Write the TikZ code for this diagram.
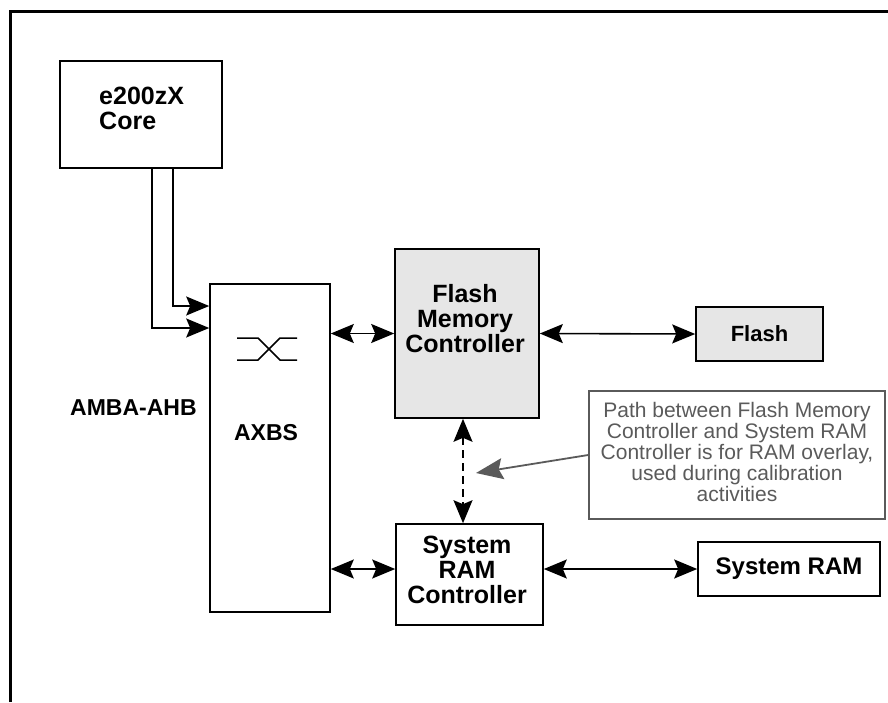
\documentclass[tikz,border=0pt]{standalone}
\usepackage{fontspec}
\setmainfont{Liberation Sans}
\usetikzlibrary{arrows.meta,calc}
\definecolor{boxgray}{HTML}{E6E6E6}
\definecolor{notegray}{HTML}{5A5A5A}
\begin{document}
\begin{tikzpicture}[x=1pt,y=-1pt,
  box/.style={draw, line width=1.6pt, inner sep=0pt},
  lbl/.style={font=\bfseries\fontsize{25}{25}\selectfont, align=center, inner sep=0pt},
  lblsm/.style={font=\bfseries\fontsize{23}{25}\selectfont, align=center, inner sep=0pt},
  notetxt/.style={font=\fontsize{21}{21}\selectfont, align=center, text=notegray, inner sep=0pt},
  tip/.style={-{Stealth[length=23pt,width=19pt,inset=4pt]}, line width=1.6pt},
  dbl/.style={{Stealth[length=23pt,width=19pt,inset=4pt]}-{Stealth[length=23pt,width=19pt,inset=4pt]}, line width=1.6pt},
  notearrow/.style={-{Stealth[length=27pt,width=21pt,inset=4pt]}, line width=1.8pt, draw=notegray, fill=notegray}
]
\useasboundingbox (0,0) rectangle (888,702);
% outer frame
\draw[line width=3pt] (10,702) -- (10,11) -- (888,11);

% boxes
\node[box, minimum width=162pt, minimum height=107pt] (core) at (141,114.5) {};
\node[box, minimum width=120pt, minimum height=328pt] (axbs) at (270,448) {};
\node[box, fill=boxgray, minimum width=144pt, minimum height=169pt] (fmc) at (467,333.5) {};
\node[box, fill=boxgray, minimum width=127pt, minimum height=54pt, lblsm, font=\bfseries\fontsize{22}{25}\selectfont] (flash) at (759.5,334) {Flash};
\node[box, minimum width=147pt, minimum height=101pt] (src) at (469.5,574.5) {};
\node[box, minimum width=182pt, minimum height=54pt, lblsm, font=\bfseries\fontsize{24}{25}\selectfont] (sram) at (789,569) {System RAM};
\node[draw=notegray, line width=1.6pt, minimum width=296pt, minimum height=128pt] (note) at (737,455) {};
\node[notetxt] (notetext) at (737,452)
  {Path between Flash Memory\\Controller and System RAM\\Controller is for RAM overlay,\\used during calibration\\activities};

% labels
\node[lbl, align=left, anchor=west] (coretxt) at (99,108) {e200zX\\Core};
\node[lblsm] (axbstxt) at (266,433) {AXBS};
\node[lblsm, anchor=west] (amba) at (70,408) {AMBA-AHB};
\node[lbl] (fmctxt) at (465,319) {Flash\\Memory\\Controller};
\node[lbl] (srctxt) at (467,569.5) {System\\RAM\\Controller};

% crossbar symbol
\draw[line width=1.5pt] (237,338) -- (258,338) -- (280,360) -- (297,360);
\draw[line width=1.5pt] (237,360) -- (258,360) -- (280,338) -- (297,338);

% core to AXBS
\coordinate (k1) at (173,306);
\coordinate (k2) at (152,328);
\draw[tip] (core.south -| k1) -- (k1) -- (axbs.west |- k1);
\draw[tip] (core.south -| k2) -- (k2) -- (axbs.west |- k2);

% bus connections
\draw[dbl] (axbs.east |- fmc.west) -- (fmc.west);
\draw[dbl] (fmc.east) -- (flash.west);
\draw[dbl] (axbs.east |- sram.west) -- (src.west |- sram.west);
\draw[dbl] (src.east |- sram.west) -- (sram.west);

% dashed overlay path
\coordinate (dx) at (463,0);
\draw[dbl, dash pattern=on 8pt off 5pt] (fmc.south -| dx) -- (src.north -| dx);

% callout arrow
\coordinate (pt) at (476,473);
\draw[notearrow] (note.west) -- (pt);
\end{tikzpicture}
\end{document}
